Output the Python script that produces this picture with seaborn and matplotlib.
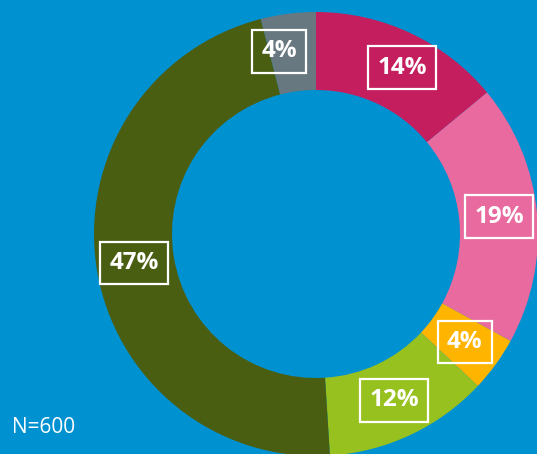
import numpy as np
import matplotlib
matplotlib.use("Agg")
import matplotlib.pyplot as plt
import seaborn as sns

# %% data
shares = [14, 19, 4, 12, 47, 4]
labels = ["14%", "19%", "4%", "12%", "47%", "4%"]
slice_colors = ["#C41E5E", "#E86A9F", "#FFB400", "#97C11F", "#4A5E12", "#687880"]
note = "N=600"

# %% style
sns.set_style("white")
plt.rcParams["font.family"] = ["Open Sans", "DejaVu Sans"]
bg = "#0091D1"
palette = sns.color_palette(slice_colors)

fig = plt.figure(figsize=(5.37, 4.54), dpi=100, facecolor=bg)
ax = fig.add_axes([0, 0, 1, 1])
ax.set_facecolor(bg)

# donut in pixel-like units
cx, cy, R, w = 316, 220, 222, 78
wedges, _ = ax.pie(shares, colors=palette, startangle=90, counterclock=False,
                   radius=R, center=(cx, cy),
                   wedgeprops=dict(width=w, linewidth=0))
ax.set_xlim(0, 537)
ax.set_ylim(0, 454)
ax.set_aspect("equal")
ax.axis("off")

# labels at mid-angle, a couple nudged like the original
nudge = [8, 0, 0, 0, 0, -14]
r_lab = 184
for wdg, lab, dx in zip(wedges, labels, nudge):
    ang = np.deg2rad((wdg.theta1 + wdg.theta2) / 2)
    x = cx + r_lab * np.cos(ang) + dx
    y = cy + r_lab * np.sin(ang)
    ax.text(x, y, lab, ha="center", va="center", color="white",
            fontsize=17.5, fontweight="bold",
            bbox=dict(boxstyle="square,pad=0.38", fc="none", ec="white", lw=1.6))

ax.text(12, 21, note, ha="left", va="baseline", color="white", fontsize=15)

fig.savefig("out.png", dpi=100, facecolor=bg)
